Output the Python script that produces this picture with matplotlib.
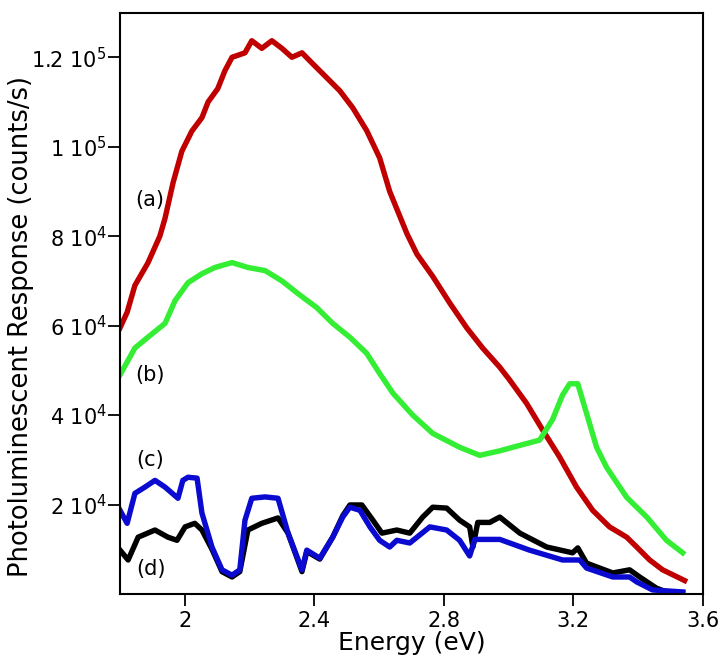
import matplotlib
matplotlib.use("Agg")
import matplotlib.pyplot as plt
from matplotlib.ticker import FuncFormatter

plt.rcParams['font.family'] = ['DejaVu Sans']
plt.rcParams['mathtext.fontset'] = 'dejavusans'

# (a) red curve
energy_a = [1.800, 1.822, 1.846, 1.886, 1.923, 1.939, 1.964, 1.991, 2.022, 2.053,
            2.072, 2.102, 2.124, 2.146, 2.186, 2.207, 2.238, 2.269, 2.300, 2.331,
            2.362, 2.396, 2.439, 2.479, 2.519, 2.562, 2.602, 2.633, 2.664, 2.686,
            2.717, 2.766, 2.819, 2.871, 2.920, 2.973, 3.004, 3.056, 3.106, 3.158,
            3.210, 3.260, 3.312, 3.365, 3.396, 3.436, 3.476, 3.544]
counts_a = [59500, 63000, 69000, 74000, 80000, 84000, 92000, 99000, 103500, 106500,
            110000, 113000, 117000, 120000, 121000, 123700, 122000, 123700, 122000, 120000,
            121000, 118500, 115400, 112500, 108700, 103600, 97500, 90000, 84500, 80600,
            76000, 71000, 65000, 59500, 55000, 50700, 47800, 42600, 36600, 30600,
            23900, 18700, 15000, 12700, 10500, 7600, 5400, 3000]

# (b) green curve
energy_b = [1.800, 1.846, 1.886, 1.939, 1.970, 2.010, 2.053, 2.093, 2.146, 2.195,
            2.248, 2.300, 2.349, 2.408, 2.457, 2.510, 2.562, 2.602, 2.643, 2.704,
            2.766, 2.849, 2.911, 2.973, 3.013, 3.096, 3.136, 3.167, 3.189, 3.214,
            3.241, 3.272, 3.303, 3.365, 3.427, 3.488, 3.538]
counts_b = [49000, 55000, 57400, 60500, 65600, 69600, 71600, 73000, 74100, 73000,
            72300, 70000, 67200, 64000, 60500, 57400, 53800, 49300, 44900, 40000,
            35900, 32800, 31000, 32000, 32800, 34400, 39000, 44500, 47000, 47000,
            40400, 32800, 28300, 21600, 17200, 12000, 9200]

# (c) blue curve
energy_c = [1.800, 1.822, 1.846, 1.877, 1.908, 1.939, 1.979, 1.994, 2.010, 2.038,
            2.053, 2.084, 2.115, 2.146, 2.170, 2.186, 2.207, 2.248, 2.288, 2.319,
            2.362, 2.377, 2.417, 2.457, 2.488, 2.510, 2.541, 2.572, 2.602, 2.633,
            2.655, 2.695, 2.757, 2.809, 2.849, 2.880, 2.896, 2.973, 3.065, 3.167,
            3.220, 3.241, 3.322, 3.374, 3.396, 3.445, 3.538]
counts_c = [18700, 15800, 22500, 23900, 25400, 23900, 21400, 25400, 26100, 25900,
            18100, 10500, 5400, 4200, 5400, 16500, 21400, 21700, 21400, 13600,
            5400, 9800, 8000, 12700, 17200, 19400, 18700, 15000, 12000, 10500,
            12000, 11400, 15000, 14300, 12000, 8500, 12200, 12200, 9800, 7600,
            7600, 5800, 3800, 3800, 2700, 900, 450]

# (d) black curve
energy_d = [1.800, 1.825, 1.856, 1.908, 1.948, 1.976, 2.001, 2.031, 2.053, 2.084,
            2.115, 2.146, 2.170, 2.195, 2.238, 2.288, 2.319, 2.362, 2.377, 2.417,
            2.457, 2.488, 2.510, 2.547, 2.581, 2.609, 2.655, 2.695, 2.735, 2.766,
            2.809, 2.849, 2.880, 2.890, 2.905, 2.942, 2.973, 3.035, 3.118, 3.198,
            3.214, 3.241, 3.322, 3.374, 3.405, 3.457, 3.488, 3.538]
counts_d = [9800, 7600, 12700, 14300, 12700, 12000, 15000, 15800, 14300, 10000,
            5000, 3800, 5000, 14300, 15800, 17000, 13600, 5000, 9500, 7800,
            12700, 17500, 19900, 19900, 16500, 13600, 14300, 13600, 17200, 19400,
            19200, 16500, 15000, 10500, 16000, 16000, 17200, 13600, 10500, 9200,
            10300, 6900, 4700, 5400, 3800, 1300, 450, 300]

curve_labels = ['(a)', '(b)', '(c)', '(d)']
label_x = [1.892, 1.892, 1.892, 1.895]
label_y = [88000, 49000, 30000, 5500]

y_ticks = [20000, 40000, 60000, 80000, 100000, 120000]
x_ticks = [2.0, 2.4, 2.8, 3.2, 3.6]


def sci_label(v, pos):
    if v == 0:
        return ''
    exp = 5 if v >= 1e5 else 4
    mant = v / 10 ** exp
    return f"{mant:g}" + r" 10$^{" + str(exp) + "}$"


fig = plt.figure(figsize=(7.23, 6.61), dpi=100)
ax = fig.add_axes([0.166, 0.1014, 0.806, 0.8796])

lw = 3.9
ax.plot(energy_a, counts_a, color='#c00000', lw=lw)
ax.plot(energy_b, counts_b, color='#33ee33', lw=lw)
ax.plot(energy_d, counts_d, color='black', lw=lw)
ax.plot(energy_c, counts_c, color='#0a0ad0', lw=lw)

for t, xx, yy in zip(curve_labels, label_x, label_y):
    ax.text(xx, yy, t, fontsize=15, ha='center', va='center')

ax.set_xlim(1.8, 3.6)
ax.set_ylim(0, 130000)
ax.set_xticks(x_ticks)
ax.set_xticklabels(['2', '2.4', '2.8', '3.2', '3.6'])
ax.set_yticks(y_ticks)
ax.yaxis.set_major_formatter(FuncFormatter(sci_label))

ax.tick_params(direction='out', length=8.5, width=1.3, labelsize=15)
ax.tick_params(axis='y', pad=1)
ax.tick_params(axis='x', pad=4)
for sp in ax.spines.values():
    sp.set_linewidth(1.5)

ax.set_xlabel('Energy (eV)', fontsize=18)
ax.xaxis.set_label_coords(0.5, -0.063)
ax.set_ylabel('Photoluminescent Response (counts/s)', fontsize=18.5)
ax.yaxis.set_label_coords(-0.148, 0.46)

fig.savefig('out.png', dpi=100)
